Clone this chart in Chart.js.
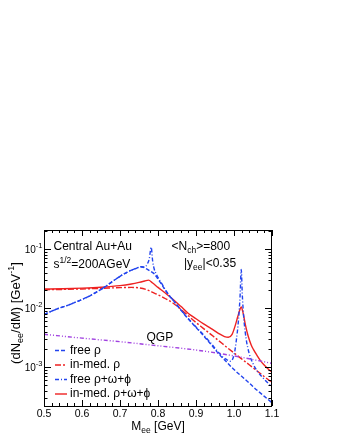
<!DOCTYPE html>
<html>
<head>
<meta charset="utf-8">
<script src="https://cdn.jsdelivr.net/npm/chart.js@4/dist/chart.umd.min.js"></script>
<style>
  body { margin: 0; background: #fff; }
  canvas { display: block; }
</style>
</head>
<body>
<canvas id="myChart" width="345" height="446"></canvas>
<script>
// Axis ticks
const xTickValues = [0.5, 0.6, 0.7, 0.8, 0.9, 1.0, 1.1]
const xTickLabels = ["0.5", "0.6", "0.7", "0.8", "0.9", "1.0", "1.1"]
const yTickValues = [1e-3, 1e-2, 1e-1]
const yTickExponents = ["-3", "-2", "-1"]

// free rho (blue dashed)
const massFreeRho = [0.50, 0.52, 0.54, 0.56, 0.58, 0.60, 0.62, 0.64, 0.66, 0.68, 0.70, 0.72, 0.74,
    0.755, 0.77, 0.78, 0.79, 0.80, 0.81, 0.82, 0.83, 0.84,
    0.86, 0.88, 0.90, 0.92, 0.94, 0.96, 0.98, 1.00, 1.02, 1.04, 1.06, 1.08, 1.10]
const freeRho = [0.0078, 0.0089, 0.0100, 0.0110, 0.0124, 0.0140, 0.0160, 0.0190, 0.0228, 0.0282, 0.0345, 0.0410, 0.0465,
    0.0500, 0.0460, 0.0420, 0.0380, 0.0310, 0.0250, 0.0198, 0.0162, 0.0135,
    0.0093, 0.0065, 0.0047, 0.0034, 0.0024, 0.00168, 0.00123, 0.00091, 0.00070, 0.00054, 0.00041, 0.00032, 0.00025]

// free rho+omega+phi (blue dash-dot)
const massFreeAll = [0.50, 0.52, 0.54, 0.56, 0.58, 0.60, 0.62, 0.64, 0.66, 0.68, 0.70, 0.72, 0.74,
    0.755, 0.765, 0.772, 0.777, 0.782, 0.786, 0.79, 0.795, 0.80, 0.81, 0.82, 0.83, 0.84,
    0.86, 0.88, 0.90, 0.92, 0.94, 0.96, 0.97, 0.98, 0.99, 1.00,
    1.006, 1.012, 1.016, 1.019, 1.022, 1.026, 1.032, 1.04, 1.05, 1.06, 1.08, 1.10]
const freeAll = [0.0078, 0.0089, 0.0100, 0.0110, 0.0124, 0.0140, 0.0160, 0.0190, 0.0228, 0.0282, 0.0345, 0.0410, 0.0465,
    0.0500, 0.0495, 0.056, 0.068, 0.107, 0.062, 0.046, 0.038, 0.033, 0.026, 0.0200, 0.0163, 0.0136,
    0.0094, 0.0066, 0.0048, 0.0035, 0.0025, 0.00175, 0.00150, 0.00135, 0.00126, 0.0016,
    0.0028, 0.0065, 0.016, 0.045, 0.016, 0.0065, 0.0030, 0.0017, 0.00115, 0.00088, 0.00062, 0.00046]

// in-medium rho (red dashed)
const massMedRho = [0.50, 0.55, 0.60, 0.65, 0.70, 0.73, 0.75, 0.77, 0.79, 0.80, 0.82, 0.84, 0.86, 0.88,
    0.90, 0.92, 0.94, 0.96, 0.98, 1.00, 1.02, 1.04, 1.06, 1.08, 1.10]
const medRho = [0.0205, 0.0207, 0.0211, 0.0216, 0.0222, 0.0224, 0.0220, 0.0205, 0.0180, 0.0168, 0.0144, 0.0121, 0.0096, 0.0074,
    0.0057, 0.0045, 0.00355, 0.0028, 0.0022, 0.00174, 0.00138, 0.00110, 0.00087, 0.00069, 0.00055]

// in-medium rho+omega+phi (red solid)
const massMedAll = [0.50, 0.55, 0.60, 0.65, 0.70, 0.73, 0.75, 0.765, 0.775, 0.785,
    0.80, 0.82, 0.84, 0.86, 0.88, 0.90, 0.92, 0.94, 0.96,
    0.975, 0.985, 0.995, 1.003, 1.010, 1.015, 1.019, 1.024, 1.030, 1.037, 1.045, 1.051,
    1.06, 1.07, 1.08, 1.09, 1.10]
const medAll = [0.0210, 0.0213, 0.0218, 0.0226, 0.0240, 0.0256, 0.0272, 0.0287, 0.0298, 0.0268,
    0.0224, 0.0178, 0.0140, 0.0107, 0.0081, 0.0066, 0.0054, 0.0045, 0.0037,
    0.0033, 0.0032, 0.0036, 0.0050, 0.0072, 0.0092, 0.0105, 0.0082, 0.0052, 0.0034, 0.0024, 0.0020,
    0.0016, 0.00128, 0.00108, 0.00093, 0.00082]

// QGP (purple dash-dot-dot)
const massQGP = [0.50, 0.60, 0.70, 0.80, 0.90, 1.00, 1.10]
const qgp = [0.0036, 0.0031, 0.0027, 0.0023, 0.00195, 0.00155, 0.00116]

const FONT = "'Liberation Sans', Arial, Helvetica, sans-serif"
const BLUE = "#2244ee"
const RED = "#ee2222"
const PURPLE = "#a040e0"

// Make {x,y} list from two arrays
function toPoints(xs, ys){
    let points = []
    for (let i=0; i<xs.length; i++){
        points.push({x: xs[i], y: ys[i]})
    }
    return points
}

// Draw text made of pieces: [text, size, shift]
function drawRich(ctx, parts, x, y, align){
    let width = 0
    for (const p of parts){
        ctx.font = p[1] + "px " + FONT
        width += ctx.measureText(p[0]).width
    }
    let cx = x
    if (align === "center") cx = x - width/2
    if (align === "right") cx = x - width
    ctx.textAlign = "left"
    ctx.textBaseline = "alphabetic"
    for (const p of parts){
        ctx.font = p[1] + "px " + FONT
        ctx.fillText(p[0], cx, y + (p[2] || 0))
        cx += ctx.measureText(p[0]).width
    }
}

// Frame, inward ticks, labels, annotations, legend
const framePlugin = {
    id: "frame",
    afterDraw(chart){
        const ctx = chart.ctx
        const area = chart.chartArea
        const xs = chart.scales.x
        const ys = chart.scales.y
        ctx.save()
        ctx.strokeStyle = "#000"
        ctx.fillStyle = "#000"
        ctx.lineWidth = 1

        // box
        ctx.strokeRect(Math.round(area.left) + 0.5, Math.round(area.top) + 0.5,
            Math.round(area.right - area.left) - 1, Math.round(area.bottom - area.top))

        // x ticks (top and bottom)
        ctx.beginPath()
        for (let k=0; k<=30; k++){
            const v = 0.5 + k*0.02
            const px = Math.round(xs.getPixelForValue(v)) + 0.5
            const len = (k % 5 === 0) ? 6 : 3
            ctx.moveTo(px, area.bottom); ctx.lineTo(px, area.bottom - len)
            ctx.moveTo(px, area.top); ctx.lineTo(px, area.top + len)
        }
        // y ticks (left and right)
        for (let e=-4; e<=-1; e++){
            for (let m=1; m<=9; m++){
                const v = m * Math.pow(10, e)
                if (v < ys.min || v > ys.max) continue
                const py = Math.round(ys.getPixelForValue(v)) + 0.5
                const len = (m === 1) ? 7 : 3.5
                ctx.moveTo(area.left, py); ctx.lineTo(area.left + len, py)
                ctx.moveTo(area.right, py); ctx.lineTo(area.right - len, py)
            }
        }
        ctx.stroke()

        // x tick labels
        for (let i=0; i<xTickValues.length; i++){
            drawRich(ctx, [[xTickLabels[i], 10.5]], xs.getPixelForValue(xTickValues[i]), 416.5, "center")
        }
        // y tick labels
        for (let i=0; i<yTickValues.length; i++){
            const py = ys.getPixelForValue(yTickValues[i])
            drawRich(ctx, [["10", 10, 0], [yTickExponents[i], 7.5, -4.5]], 42.5, py + 3.5, "right")
        }

        // axis titles
        drawRich(ctx, [["M", 12], ["ee", 8.5, 3], [" [GeV]", 12]], (area.left + area.right)/2, 430, "center")
        ctx.save()
        ctx.translate(19.5, 313)
        ctx.rotate(-Math.PI/2)
        drawRich(ctx, [["(dN", 13], ["ee", 9, 3], ["/dM) [GeV", 13], ["-1", 9, -5.5], ["]", 13]], 0, 0, "center")
        ctx.restore()

        // annotations
        drawRich(ctx, [["Central Au+Au", 12]], 53.5, 250, "left")
        drawRich(ctx, [["s", 12], ["1/2", 8.5, -5], ["=200AGeV", 12]], 53.5, 267.5, "left")
        drawRich(ctx, [["<N", 12], ["ch", 8.5, 3], [">=800", 12]], 171.5, 250, "left")
        drawRich(ctx, [["|y", 12], ["ee", 8.5, 3], ["|<0.35", 12]], 184, 266.5, "left")
        drawRich(ctx, [["QGP", 12]], 146.5, 340.5, "left")

        // legend
        const legendRows = [
            {label: "free ρ", color: BLUE, dash: [4, 2]},
            {label: "in-med. ρ", color: RED, dash: [6, 2, 2, 2]},
            {label: "free ρ+ω+ϕ", color: BLUE, dash: [4, 2, 1, 2]},
            {label: "in-med. ρ+ω+ϕ", color: RED, dash: []}
        ]
        for (let i=0; i<legendRows.length; i++){
            const row = legendRows[i]
            const base = 353.5 + i*14.5
            ctx.save()
            ctx.strokeStyle = row.color
            ctx.lineWidth = 1.4
            ctx.setLineDash(row.dash)
            ctx.beginPath()
            ctx.moveTo(55, base - 3)
            ctx.lineTo(67, base - 3)
            ctx.stroke()
            ctx.restore()
            drawRich(ctx, [[row.label, 12]], 70, base, "left")
        }
        ctx.restore()
    }
}

const data = {
    datasets: [
        {label: "QGP", data: toPoints(massQGP, qgp), borderColor: PURPLE, borderDash: [4, 2, 1, 2, 1, 2]},
        {label: "free rho", data: toPoints(massFreeRho, freeRho), borderColor: BLUE, borderDash: [4, 2]},
        {label: "free rho+omega+phi", data: toPoints(massFreeAll, freeAll), borderColor: BLUE, borderDash: [4, 2, 1, 2]},
        {label: "in-med. rho", data: toPoints(massMedRho, medRho), borderColor: RED, borderDash: [6, 2, 2, 2]},
        {label: "in-med. rho+omega+phi", data: toPoints(massMedAll, medAll), borderColor: RED, borderDash: []}
    ]
}

const config = {
    type: "line",
    data: data,
    options: {
        responsive: false,
        animation: false,
        devicePixelRatio: 1,
        layout: {padding: {left: 44, right: 73, top: 230, bottom: 40}},
        elements: {
            point: {radius: 0},
            line: {borderWidth: 1.4, cubicInterpolationMode: "monotone", fill: false}
        },
        plugins: {legend: {display: false}, tooltip: {enabled: false}},
        scales: {
            x: {type: "linear", min: 0.5, max: 1.1, display: false},
            y: {type: "logarithmic", min: 2.2e-4, max: 0.21, display: false}
        }
    },
    plugins: [framePlugin]
}

new Chart(document.getElementById("myChart"), config)
</script>
</body>
</html>
